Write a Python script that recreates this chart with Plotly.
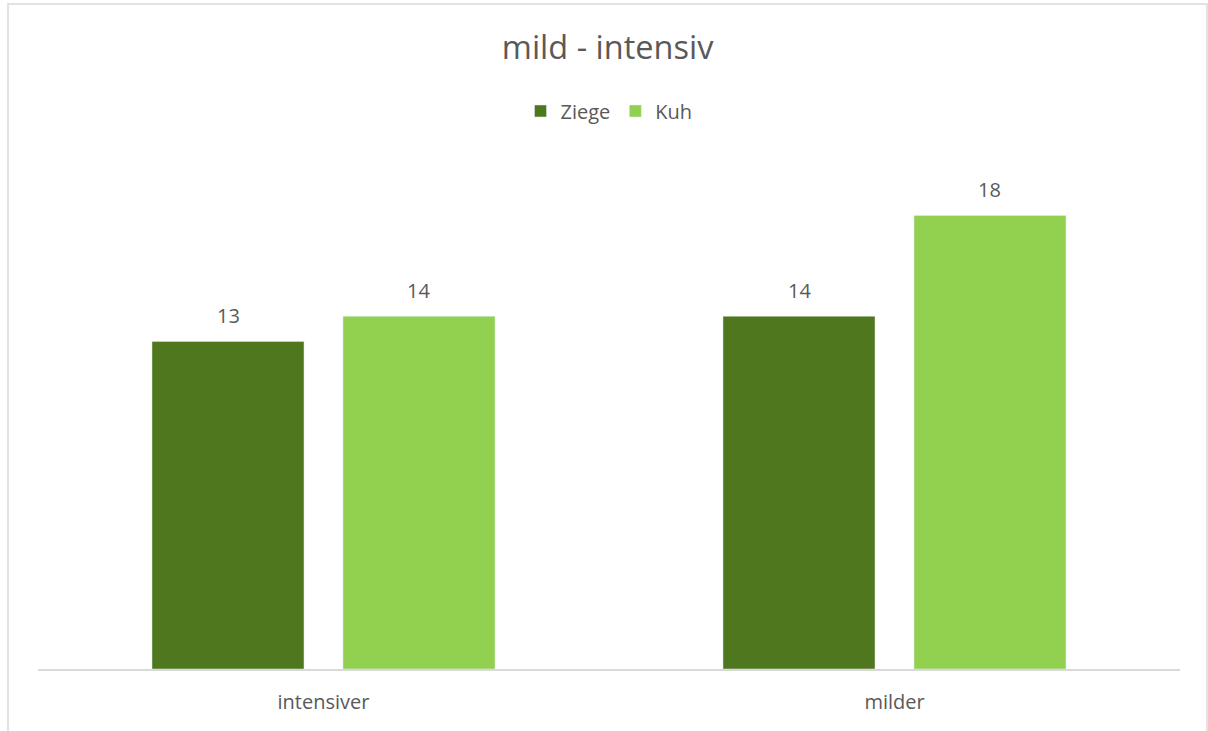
import plotly.graph_objects as go

categories = ["intensiver", "milder"]
ziege = [13, 14]
kuh = [14, 18]
series_names = ["Ziege", "Kuh"]
series_colors = ["#4F771D", "#92D050"]
title_text = "mild - intensiv"

W, H = 1208, 731
L, R, T, B = 38, 28, 165, 62
pw = W - L - R
ph = H - T - B

FONT = "Open Sans, sans-serif"
TXT = "#595959"
BARGAP = 0.331
slot_px = pw / len(categories) * (1 - BARGAP) / 2

fig = go.Figure()
for name, vals, col in zip(series_names, [ziege, kuh], series_colors):
    fig.add_trace(go.Bar(x=categories, y=vals, name=name, marker_color=col))

# data labels
for i, (name, vals) in enumerate(zip(series_names, [ziege, kuh])):
    shift = (i - 0.5) * slot_px
    for c, v in zip(categories, vals):
        fig.add_annotation(x=c, y=v, text=str(v), showarrow=False, xshift=shift,
                           yanchor="middle", yshift=26,
                           font=dict(size=20, color=TXT, family=FONT))

def px_x(p):
    return (p - L) / pw

def px_y(p):
    return (H - B - p) / ph

fig.add_shape(type="rect", xref="paper", yref="paper",
              x0=px_x(8), x1=px_x(1207), y0=px_y(760), y1=px_y(4),
              line=dict(color="#D9D9D9", width=1.5), fillcolor="rgba(0,0,0,0)", layer="below")

fig.update_layout(
    width=W, height=H,
    margin=dict(l=L, r=R, t=T, b=B, pad=0),
    paper_bgcolor="white", plot_bgcolor="white",
    font=dict(family=FONT, color=TXT, size=20),
    barmode="group", bargap=BARGAP, bargroupgap=0.204,
    title=dict(text=title_text, x=0.503, xanchor="center", y=1 - 48 / H, yanchor="middle",
               font=dict(size=32.5, color=TXT, family=FONT)),
    legend=dict(orientation="h", x=0.5, xanchor="center", y=px_y(111), yanchor="middle",
                font=dict(size=20, color=TXT, family=FONT), itemwidth=30, traceorder="normal"),
    xaxis=dict(showline=True, linecolor="#D9D9D9", linewidth=1.5, ticks="", showgrid=False,
               tickfont=dict(size=20, color=TXT, family=FONT), ticklabelstandoff=14),
    yaxis=dict(range=[0, 20], visible=False, showgrid=False, zeroline=False),
)

fig.write_html("out.html")
